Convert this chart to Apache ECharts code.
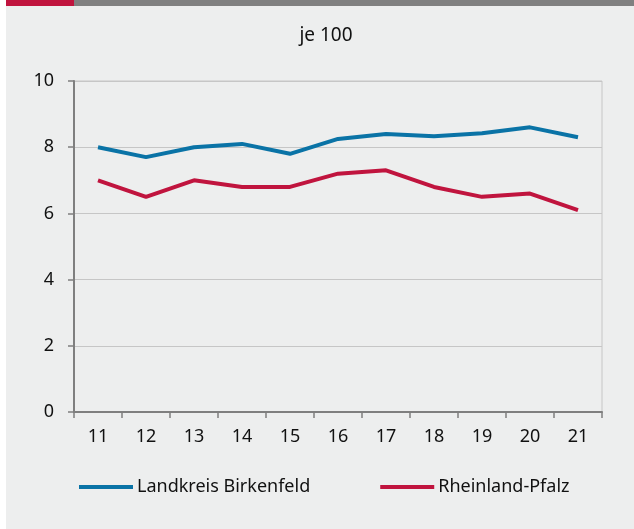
<!DOCTYPE html>
<html>
<head>
<meta charset="utf-8">
<script src="https://cdn.jsdelivr.net/npm/echarts@6/dist/echarts.min.js"></script>
<style>
  html, body { margin: 0; padding: 0; background: #ffffff; }
  #chart { width: 634px; height: 529px; }
</style>
</head>
<body>
<div id="chart"></div>
<script>
// Jahre (20xx) und Werte je 100
const years = ['11', '12', '13', '14', '15', '16', '17', '18', '19', '20', '21'];
const birkenfeld = [8.0, 7.7, 8.0, 8.1, 7.8, 8.25, 8.4, 8.33, 8.42, 8.6, 8.3];
const rheinlandPfalz = [7.0, 6.5, 7.0, 6.8, 6.8, 7.2, 7.3, 6.8, 6.5, 6.6, 6.1];
const seriesNames = ['Landkreis Birkenfeld', 'Rheinland-Pfalz'];
const yTicks = { min: 0, max: 10, interval: 2 };

const FONT = 'Noto Sans';
const TEXT = '#111111';
const BLUE = '#0a73a6';
const RED = '#c0143e';

const chart = echarts.init(document.getElementById('chart'), null, { renderer: 'canvas' });

chart.setOption({
  animation: false,
  backgroundColor: '#ffffff',
  textStyle: { fontFamily: FONT },
  graphic: [
    { type: 'rect', shape: { x: 6, y: 0, width: 628, height: 529 }, style: { fill: '#edeeee' }, z: -10, silent: true },
    { type: 'rect', shape: { x: 74, y: 0, width: 560, height: 6 }, style: { fill: '#808080' }, z: -9, silent: true },
    { type: 'rect', shape: { x: 6, y: 0, width: 68, height: 6 }, style: { fill: RED }, z: -9, silent: true }
  ],
  title: {
    text: 'je 100',
    left: 321,
    textAlign: 'center',
    top: 21,
    textStyle: { fontFamily: FONT, fontSize: 19, fontWeight: 'normal', color: TEXT }
  },
  legend: {
    data: seriesNames,
    bottom: 28,
    left: 74,
    itemWidth: 54,
    itemHeight: 4,
    itemGap: 70,
    icon: 'rect',
    textStyle: { fontFamily: FONT, fontSize: 18, color: TEXT, padding: [0, 0, 0, -1] }
  },
  grid: {
    left: 74, right: 32, top: 81, bottom: 117,
    show: true, borderColor: '#c6c6c6', borderWidth: 1, backgroundColor: 'transparent'
  },
  xAxis: {
    type: 'category',
    data: years,
    boundaryGap: true,
    axisLine: { lineStyle: { color: '#7f7f7f', width: 2 } },
    axisTick: { show: true, length: 6, lineStyle: { color: '#7f7f7f', width: 1.5 } },
    axisLabel: { fontFamily: FONT, fontSize: 18, color: TEXT, margin: 16 },
    splitLine: { show: false }
  },
  yAxis: {
    type: 'value',
    min: yTicks.min,
    max: yTicks.max,
    interval: yTicks.interval,
    axisLine: { show: true, lineStyle: { color: '#7f7f7f', width: 2 } },
    axisTick: { show: true, length: 6, lineStyle: { color: '#7f7f7f', width: 1.5 } },
    axisLabel: { fontFamily: FONT, fontSize: 18, color: TEXT, margin: 20 },
    splitLine: { show: true, lineStyle: { color: '#c6c6c6', width: 1 } }
  },
  series: [
    {
      name: seriesNames[0], type: 'line', data: birkenfeld,
      symbol: 'none', lineStyle: { color: BLUE, width: 4 }, itemStyle: { color: BLUE }
    },
    {
      name: seriesNames[1], type: 'line', data: rheinlandPfalz,
      symbol: 'none', lineStyle: { color: RED, width: 4 }, itemStyle: { color: RED }
    }
  ]
});
</script>
</body>
</html>
